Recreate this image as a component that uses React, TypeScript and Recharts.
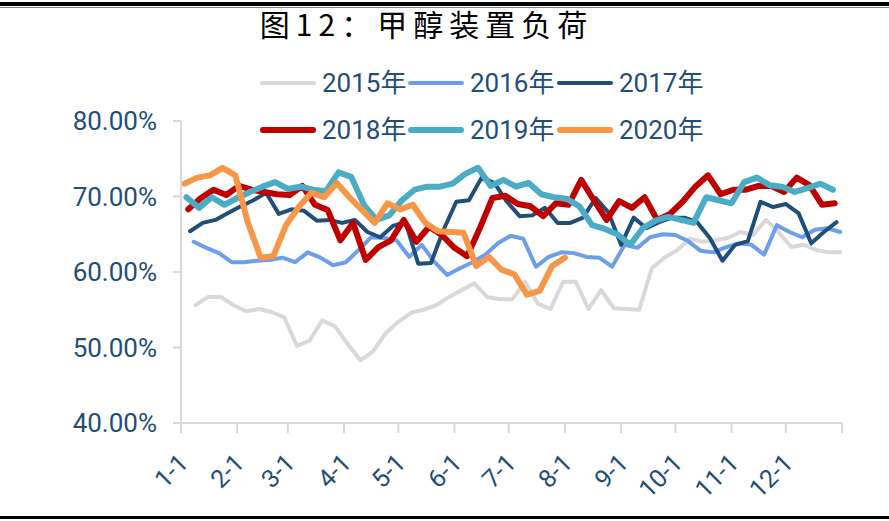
import React from 'react';
import { LineChart, Line, XAxis, YAxis } from 'recharts';

// weekly methanol plant operating rate, %, one point per Friday
const load2015 = [55.6, 56.7, 56.7, 55.6, 54.8, 55.1, 54.7, 54.0, 50.2, 50.9, 53.6, 52.8, 50.5, 48.3, 49.5, 51.9, 53.4, 54.6, 55.0, 55.6, 56.7, 57.6, 58.5, 56.7, 56.4, 56.4, 58.7, 55.8, 55.1, 58.7, 58.7, 55.1, 57.6, 55.2, 55.1, 55.0, 60.5, 61.9, 62.9, 64.4, 64.0, 64.2, 64.5, 65.3, 64.9, 66.9, 65.3, 63.3, 63.6, 62.9, 62.6, 62.6];
const load2016 = [64.0, 63.2, 62.5, 61.3, 61.3, 61.5, 61.6, 61.9, 61.3, 62.6, 61.9, 60.9, 61.3, 62.9, 64.6, 64.5, 64.2, 62.0, 63.6, 61.3, 59.6, 60.5, 61.3, 62.3, 63.8, 64.8, 64.4, 60.7, 62.0, 62.6, 62.5, 62.0, 61.9, 60.7, 63.6, 63.2, 64.6, 65.0, 64.9, 64.1, 62.8, 62.6, 63.3, 63.8, 63.6, 62.3, 66.2, 65.3, 64.6, 65.6, 65.8, 65.3];
const load2017 = [65.4, 66.5, 66.9, 67.8, 68.7, 69.5, 70.5, 67.7, 68.3, 68.1, 66.8, 66.9, 66.5, 66.9, 65.3, 64.6, 66.1, 66.6, 61.1, 61.2, 65.6, 69.3, 69.5, 72.5, 71.8, 69.3, 67.4, 67.5, 68.5, 66.5, 66.5, 67.2, 69.8, 67.9, 63.6, 67.2, 65.8, 66.6, 67.2, 67.2, 66.6, 64.5, 61.5, 63.6, 64.1, 69.3, 68.6, 69.0, 67.8, 63.8, 65.3, 66.6];
const load2018 = [68.3, 69.8, 70.9, 70.2, 71.4, 70.9, 70.6, 70.3, 70.2, 71.4, 68.9, 68.2, 64.2, 66.5, 61.6, 63.3, 64.2, 66.9, 64.0, 66.0, 64.9, 63.2, 62.1, 65.8, 69.8, 70.1, 69.0, 68.7, 67.4, 69.1, 68.9, 72.2, 69.5, 66.9, 69.4, 68.5, 69.9, 66.9, 67.7, 69.3, 71.3, 72.8, 70.3, 70.9, 70.9, 71.4, 71.4, 70.6, 72.5, 71.5, 68.9, 69.1];
const load2019 = [69.9, 68.5, 69.9, 68.9, 69.8, 70.6, 71.3, 71.9, 71.0, 71.3, 70.9, 70.7, 73.2, 72.6, 68.9, 66.9, 67.5, 69.5, 70.9, 71.3, 71.3, 71.7, 73.0, 73.8, 71.4, 72.2, 71.3, 71.8, 70.3, 69.9, 69.7, 68.7, 66.2, 65.7, 65.0, 63.6, 65.8, 66.8, 67.3, 66.9, 66.5, 69.9, 69.5, 69.1, 71.9, 72.5, 71.5, 71.3, 70.6, 71.1, 71.7, 70.9];
const load2020 = [71.7, 72.5, 72.8, 73.8, 72.8, 66.5, 61.9, 62.1, 66.2, 68.6, 70.5, 69.9, 71.8, 69.9, 68.2, 66.5, 69.1, 68.3, 68.9, 66.5, 65.4, 65.3, 65.2, 60.8, 62.0, 60.3, 59.7, 57.0, 57.5, 60.8, 61.9];

const seriesNames = ['2015年', '2016年', '2017年', '2018年', '2019年', '2020年'];
const seriesValues = [load2015, load2016, load2017, load2018, load2019, load2020];
// day of year (0 = Jan 1) of the first Friday in each year
const firstFriday = [8, 7, 5, 4, 3, 2];

const monthStarts = [0, 31, 59, 90, 120, 151, 181, 212, 243, 273, 304, 334, 365];
const monthLabels = ['1-1', '2-1', '3-1', '4-1', '5-1', '6-1', '7-1', '8-1', '9-1', '10-1', '11-1', '12-1', ''];
const yTicks = [40, 50, 60, 70, 80];

const lineColors = ['#D9D9D9', '#6D9EEB', '#1F4E79', '#C00000', '#4BACC6', '#F79646'];
const lineWidths = [4, 4, 4, 6, 6, 6];
const textBlue = '#1F4E79';
const axisGray = '#D9D9D9';

const seriesData = seriesValues.map((vals, i) =>
  vals.map((v, k) => ({ day: firstFriday[i] + 7 * k, value: v }))
);

const XTick = (props: any) => {
  const { x, y, payload } = props;
  const label = monthLabels[monthStarts.indexOf(payload.value)];
  return (
    <g transform={`translate(${x + 3},${y + 22})`}>
      <text textAnchor="end" transform="rotate(-45)" dy={8} fill={textBlue} fontSize={25}>
        {label}
      </text>
    </g>
  );
};

const legendCols = [260, 408, 557];
const legendRows = [83, 130];

const ChartLegend = () => (
  <>
    {seriesNames.map((name, i) => (
      <div
        key={name}
        style={{
          position: 'absolute',
          left: legendCols[i % 3],
          top: legendRows[Math.floor(i / 3)] - 16,
          height: 32,
          display: 'flex',
          alignItems: 'center',
        }}
      >
        <span
          style={{
            display: 'inline-block',
            width: 56,
            height: lineWidths[i],
            borderRadius: 3,
            background: lineColors[i],
          }}
        />
        <span style={{ marginLeft: 6, fontSize: 26, color: textBlue, lineHeight: '32px' }}>{name}</span>
      </div>
    ))}
  </>
);

export default function App() {
  return (
    <div
      style={{
        position: 'absolute',
        left: 0,
        top: 0,
        width: 889,
        height: 521,
        background: '#fff',
        overflow: 'hidden',
        fontFamily: "Roboto, 'Noto Sans CJK SC', sans-serif",
      }}
    >
      <div style={{ position: 'absolute', left: 0, top: 2, width: 889, height: 4, background: '#000' }} />
      <div style={{ position: 'absolute', left: 0, top: 7, width: 889, height: 1, background: '#888' }} />
      <div style={{ position: 'absolute', left: 0, top: 516, width: 889, height: 3, background: '#000' }} />
      <div
        style={{
          position: 'absolute',
          left: 0,
          top: 4,
          width: 853,
          textAlign: 'center',
          fontSize: 30,
          letterSpacing: 6,
          color: '#000',
          fontFamily: "'Noto Sans CJK SC', sans-serif",
          lineHeight: '38px',
        }}
      >
        图12：甲醇装置负荷
      </div>
      <ChartLegend />
      <div style={{ position: 'absolute', left: 0, top: 0 }}>
        <LineChart width={889} height={521} margin={{ top: 121, right: 47, bottom: 38, left: 81 }}>
          <XAxis
            dataKey="day"
            type="number"
            domain={[0, 365]}
            ticks={monthStarts}
            interval={0}
            height={60}
            tickSize={10}
            tickMargin={4}
            tick={<XTick />}
            axisLine={{ stroke: axisGray, strokeWidth: 2 }}
            tickLine={{ stroke: axisGray, strokeWidth: 2 }}
            allowDataOverflow
          />
          <YAxis
            type="number"
            domain={[40, 80]}
            ticks={yTicks}
            interval={0}
            width={100}
            tickSize={8}
            tickMargin={16}
            tickFormatter={(v: number) => `${v.toFixed(2)}%`}
            tick={{ fill: textBlue, fontSize: 26 }}
            axisLine={{ stroke: axisGray, strokeWidth: 2 }}
            tickLine={{ stroke: axisGray, strokeWidth: 2 }}
          />
          {seriesData.map((data, i) => (
            <Line
              key={seriesNames[i]}
              data={data}
              dataKey="value"
              name={seriesNames[i]}
              type="linear"
              stroke={lineColors[i]}
              strokeWidth={lineWidths[i]}
              strokeLinejoin="round"
              strokeLinecap="round"
              dot={false}
              activeDot={false}
              isAnimationActive={false}
            />
          ))}
        </LineChart>
      </div>
    </div>
  );
}
